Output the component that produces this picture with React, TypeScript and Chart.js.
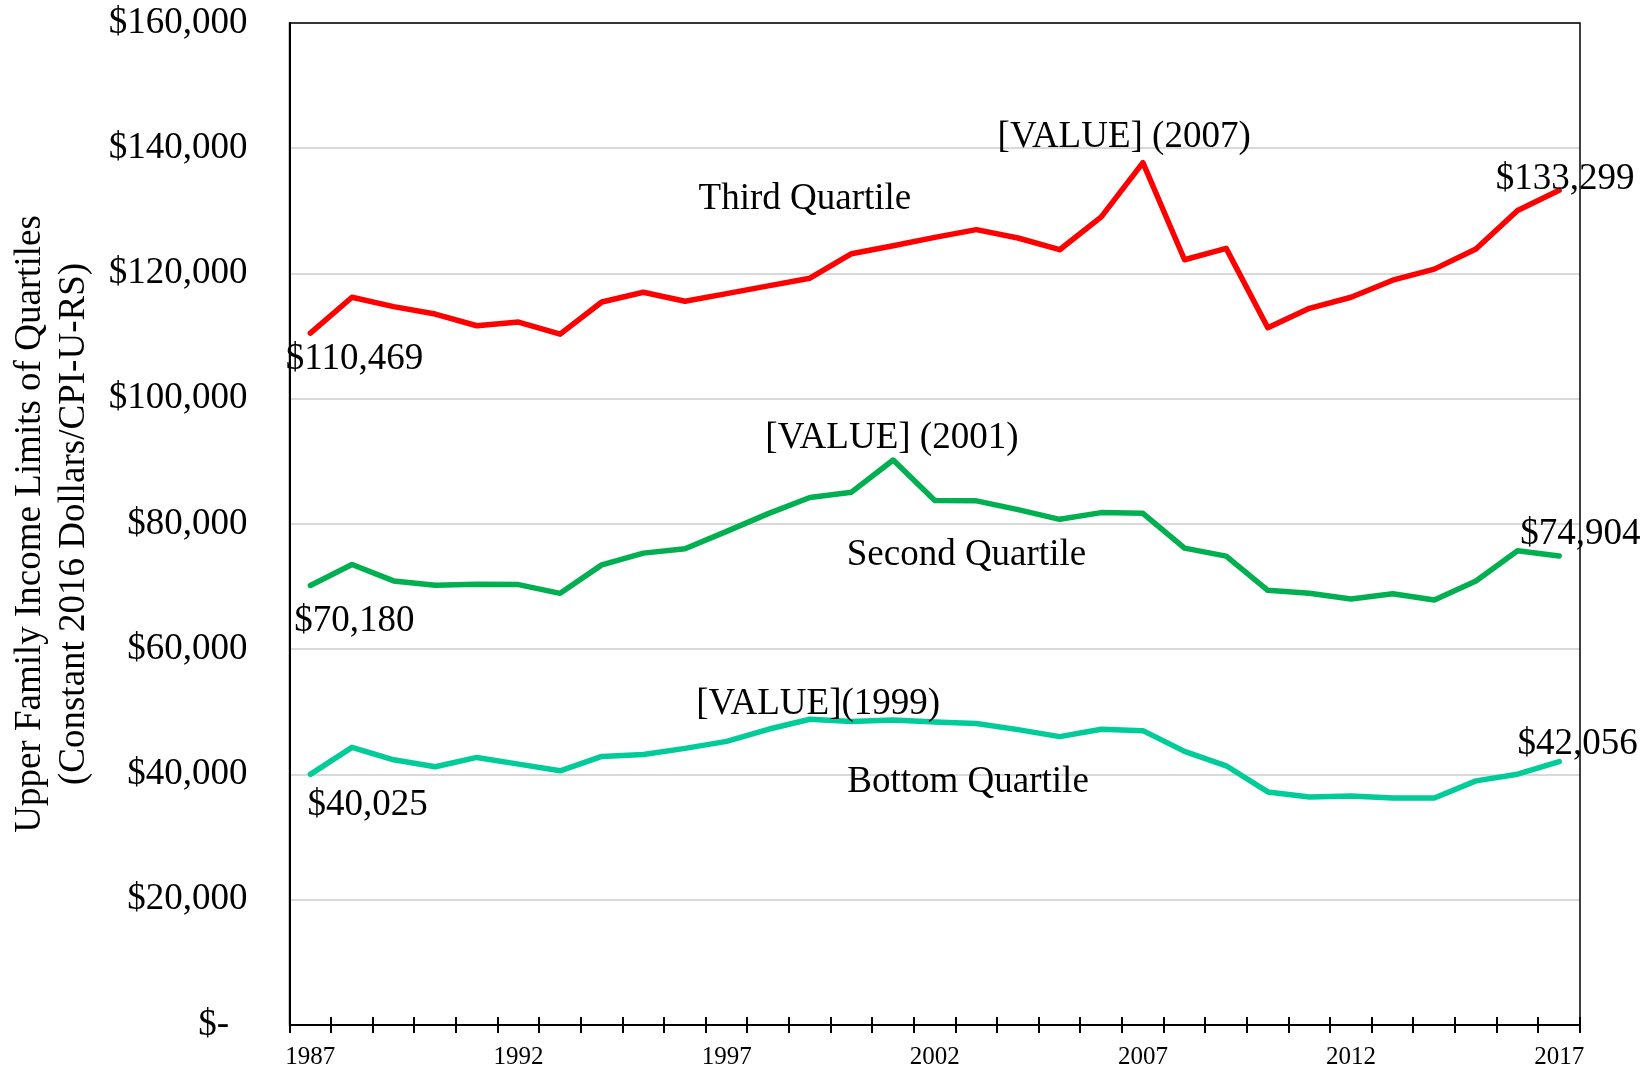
import React, { useEffect, useRef } from 'react';
import { Chart, registerables } from 'chart.js';

Chart.register(...registerables);

const years = [
  '1987', '1988', '1989', '1990', '1991', '1992', '1993', '1994', '1995', '1996',
  '1997', '1998', '1999', '2000', '2001', '2002', '2003', '2004', '2005', '2006',
  '2007', '2008', '2009', '2010', '2011', '2012', '2013', '2014', '2015', '2016', '2017',
];

const thirdQuartile = [
  110469, 116203, 114706, 113529, 111658, 112246, 110321, 115455, 117005, 115561,
  116791, 118021, 119251, 123155, 124439, 125775, 127005, 125668, 123797, 129037,
  137701, 122193, 124011, 111337, 114439, 116203, 118930, 120695, 123904, 130053, 133299,
];

const secondQuartile = [
  70180, 73529, 70909, 70214, 70374, 70321, 68930, 73476, 75348, 76043,
  78824, 81658, 84225, 85080, 90214, 83743, 83700, 82299, 80749, 81818,
  81711, 76150, 74866, 69412, 68930, 68021, 68877, 67861, 70909, 75722, 74904,
];

const bottomQuartile = [
  40025, 44332, 42353, 41230, 42727, 41658, 40588, 42888, 43209, 44171,
  45294, 47219, 48824, 48449, 48717, 48396, 48150, 47166, 46043, 47219,
  47005, 43690, 41390, 37219, 36417, 36578, 36257, 36257, 38984, 40053, 42056,
];

const yTitle = ['Upper Family Income Limits of Quartiles', '(Constant 2016 Dollars/CPI-U-RS)'];

// Text annotations placed in data space (x = category index, y = value at text baseline)
const textLabels = [
  { text: 'Third Quartile', x: 11.88, y: 130240 },
  { text: '[VALUE] (2007)', x: 19.55, y: 140160 },
  { text: '$133,299', x: 30.14, y: 133440 },
  { text: '$110,469', x: 1.06, y: 104800 },
  { text: '[VALUE] (2001)', x: 13.97, y: 92160 },
  { text: 'Second Quartile', x: 15.76, y: 73440 },
  { text: '$74,904', x: 30.51, y: 76800 },
  { text: '$70,180', x: 1.06, y: 62880 },
  { text: '[VALUE](1999)', x: 12.2, y: 49600 },
  { text: 'Bottom Quartile', x: 15.8, y: 37280 },
  { text: '$42,056', x: 30.44, y: 43200 },
  { text: '$40,025', x: 1.375, y: 33600 },
];

const FONT = '"Liberation Serif", "Times New Roman", Times, serif';

const overlayPlugin = {
  id: 'overlay',
  afterDraw(chart: any) {
    const { ctx, chartArea, scales } = chart;
    const xs = scales.x;
    const ys = scales.y;
    ctx.save();
    // inner half of the crossing tick marks
    ctx.strokeStyle = '#000';
    ctx.lineWidth = 2;
    for (let i = 0; i <= years.length; i++) {
      const px = Math.round(xs.getPixelForValue(i - 0.5));
      ctx.beginPath();
      ctx.moveTo(px, chartArea.bottom);
      ctx.lineTo(px, chartArea.bottom - 8);
      ctx.stroke();
    }
    // frame around plot area
    ctx.lineWidth = 1.5;
    ctx.strokeRect(chartArea.left, chartArea.top, chartArea.right - chartArea.left, chartArea.bottom - chartArea.top);
    // annotations
    ctx.font = `37px ${FONT}`;
    ctx.fillStyle = '#000';
    ctx.textAlign = 'center';
    ctx.textBaseline = 'alphabetic';
    for (const l of textLabels) {
      ctx.fillText(l.text, xs.getPixelForValue(l.x), ys.getPixelForValue(l.y));
    }
    ctx.restore();
  },
};

export default function App() {
  const canvasRef = useRef<HTMLCanvasElement | null>(null);

  useEffect(() => {
    if (!canvasRef.current) return;
    Chart.defaults.font.family = FONT;
    const lineStyle = {
      borderWidth: 5.5,
      pointRadius: 0,
      pointHoverRadius: 0,
      tension: 0,
      borderJoinStyle: 'round' as const,
      borderCapStyle: 'round' as const,
      fill: false,
    };
    const chart = new Chart(canvasRef.current, {
      type: 'line',
      data: {
        labels: years,
        datasets: [
          { label: 'Third Quartile', data: thirdQuartile, borderColor: '#ff0000', backgroundColor: '#ff0000', ...lineStyle },
          { label: 'Second Quartile', data: secondQuartile, borderColor: '#00b050', backgroundColor: '#00b050', ...lineStyle },
          { label: 'Bottom Quartile', data: bottomQuartile, borderColor: '#00cc99', backgroundColor: '#00cc99', ...lineStyle },
        ],
      },
      options: {
        responsive: false,
        animation: false,
        layout: { padding: { left: 8, right: 72, top: 23, bottom: -14 } },
        plugins: {
          legend: { display: false },
          tooltip: { enabled: false },
        },
        scales: {
          x: {
            offset: true,
            grid: { offset: true, drawOnChartArea: false, drawTicks: true, tickLength: 8, color: '#000', lineWidth: 2 },
            border: { display: true, color: '#000', width: 2 },
            ticks: {
              autoSkip: false,
              maxRotation: 0,
              minRotation: 0,
              padding: 12,
              color: '#000',
              font: { size: 25, lineHeight: 1 },
              callback: (_v: any, i: number) => (i % 5 === 0 ? years[i] : ''),
            },
          },
          y: {
            min: 0,
            max: 160000,
            ticks: {
              stepSize: 20000,
              padding: 0,
              color: '#000',
              font: { size: 37 },
              callback: (v: any) => (Number(v) === 0 ? '$-  ' : '$' + Number(v).toLocaleString('en-US')),
            },
            grid: { color: '#d9d9d9', lineWidth: 2, drawTicks: true, tickLength: 42, tickColor: 'rgba(0,0,0,0)' },
            border: { display: true, color: '#000', width: 2 },
            title: {
              display: true,
              text: yTitle,
              color: '#000',
              font: { size: 37, lineHeight: 1.2 },
              padding: { top: 0, bottom: 12 },
            },
          },
        },
      },
      plugins: [overlayPlugin],
    });
    return () => chart.destroy();
  }, []);

  return (
    <div style={{ position: 'fixed', left: 0, top: 0, width: 1652, height: 1068, background: '#fff' }}>
      <canvas ref={canvasRef} width={1652} height={1068} style={{ display: 'block' }} />
    </div>
  );
}
